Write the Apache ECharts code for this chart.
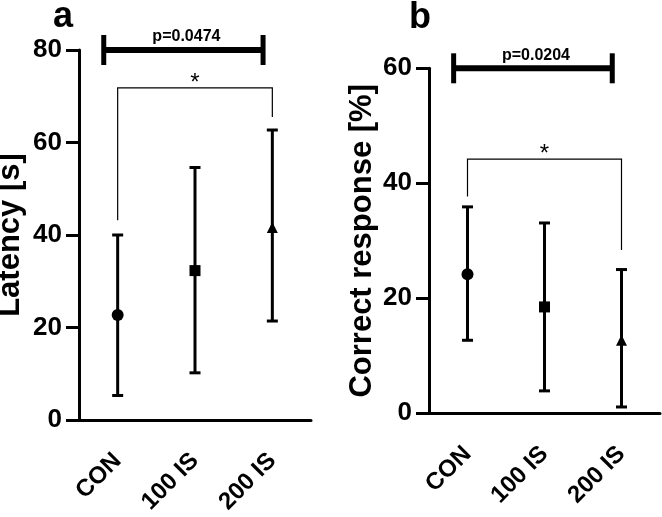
<!DOCTYPE html>
<html>
<head>
<meta charset="utf-8">
<script src="https://cdn.jsdelivr.net/npm/echarts@6/dist/echarts.min.js"></script>
<style>
html,body{margin:0;padding:0;background:#fff;}
#chart{width:662px;height:517px;}
</style>
</head>
<body>
<div id="chart"></div>
<script>
const categories = ['CON', '100 IS', '200 IS'];
const latencyMean = [22.7, 32.3, 41.6];
const latencyLow = [5.3, 10.2, 21.4];
const latencyHigh = [40.0, 54.6, 62.7];
const correctMean = [24.2, 18.5, 12.7];
const correctLow = [12.7, 3.9, 1.1];
const correctHigh = [35.9, 33.1, 25.0];
const yMaxA = 80, yStepA = 20;
const yMaxB = 60, yStepB = 20;
const yNames = ['Latency [s]', 'Correct response [%]'];
const panelLetters = ['a', 'b'];
const pText = ['p=0.0474', 'p=0.0204'];
const pBarLevel = [80, 60];
const pBarFrom = [-0.18, -0.18];
const pBarTo = [1.88, 1.88];
const starLevel = [71.8, 44.2];
const starLeftEnd = [43.2, 37.7];
const starRightEnd = [65.5, 28.4];
const markerShapes = ['circle', 'rect', 'triangle'];
const markerSizes = [12, 11, 11];

const FONT = "'Liberation Sans', Arial, Helvetica, sans-serif";
const BLACK = '#000';

function errRender(params, api) {
  const x = api.value(0), lo = api.value(1), hi = api.value(2);
  const pLo = api.coord([x, lo]), pHi = api.coord([x, hi]);
  const hw = 5.5;
  const st = {stroke: BLACK, lineWidth: 3};
  return {type: 'group', children: [
    {type: 'line', shape: {x1: pLo[0], y1: pLo[1], x2: pHi[0], y2: pHi[1]}, style: st},
    {type: 'line', shape: {x1: pLo[0] - hw, y1: pLo[1], x2: pLo[0] + hw, y2: pLo[1]}, style: st},
    {type: 'line', shape: {x1: pHi[0] - hw, y1: pHi[1], x2: pHi[0] + hw, y2: pHi[1]}, style: st}
  ]};
}

function bracketRender(k) {
  return function (params, api) {
    const band = api.size([1, 0])[0];
    const c0 = api.coord([0, pBarLevel[k]]);
    const xa = c0[0] + pBarFrom[k] * band;
    const xb = c0[0] + pBarTo[k] * band;
    const yb = c0[1];
    const s0 = api.coord([0, starLevel[k]]);
    const s2 = api.coord([2, starLevel[k]]);
    const l0 = api.coord([0, starLeftEnd[k]]);
    const r2 = api.coord([2, starRightEnd[k]]);
    const cap = 15;
    return {type: 'group', children: [
      {type: 'line', shape: {x1: xa, y1: yb, x2: xb, y2: yb}, style: {stroke: BLACK, lineWidth: 6}},
      {type: 'line', shape: {x1: xa, y1: yb - cap, x2: xa, y2: yb + cap}, style: {stroke: BLACK, lineWidth: 5}},
      {type: 'line', shape: {x1: xb, y1: yb - cap, x2: xb, y2: yb + cap}, style: {stroke: BLACK, lineWidth: 5}},
      {type: 'text', x: (xa + xb) / 2 + 3, y: yb - 5, style: {text: pText[k], font: 'bold 16px ' + FONT, fill: BLACK, align: 'center', verticalAlign: 'bottom', textAlign: 'center', textVerticalAlign: 'bottom'}},
      {type: 'polyline', shape: {points: [[l0[0], l0[1]], [s0[0], s0[1]], [s2[0], s2[1]], [r2[0], r2[1]]]}, style: {stroke: BLACK, lineWidth: 1.2, fill: null}},
      {type: 'text', x: (s0[0] + s2[0]) / 2, y: s0[1] - 5, style: {text: '*', font: '24px ' + FONT, fill: BLACK, align: 'center', verticalAlign: 'middle', textAlign: 'center', textVerticalAlign: 'middle'}}
    ]};
  };
}

function xAxisCfg(gi) {
  return {
    type: 'category', gridIndex: gi, data: categories, boundaryGap: true,
    axisLine: {lineStyle: {color: BLACK, width: 3}},
    axisTick: {alignWithLabel: true, length: 14, lineStyle: {color: BLACK, width: 3}},
    axisLabel: {rotate: 45, margin: 37, color: BLACK, fontSize: 24, fontWeight: 'bold', fontFamily: FONT, interval: 0},
    splitLine: {show: false}
  };
}
function yAxisCfg(gi, max, step, nameGap) {
  return {
    type: 'value', gridIndex: gi, min: 0, max: max, interval: step,
    name: yNames[gi], nameLocation: 'middle', nameGap: nameGap,
    nameTextStyle: {color: BLACK, fontSize: 31, fontWeight: 'bold', fontFamily: FONT},
    axisLine: {show: true, lineStyle: {color: BLACK, width: 3}},
    axisTick: {show: true, length: 13, lineStyle: {color: BLACK, width: 3}},
    axisLabel: {margin: 17, color: BLACK, fontSize: 26, fontWeight: 'bold', fontFamily: FONT},
    splitLine: {show: false}
  };
}
function meanData(arr) {
  return arr.map((v, i) => ({value: [i, v], symbol: markerShapes[i], symbolSize: markerSizes[i]}));
}
function errData(lo, hi) {
  return lo.map((v, i) => [i, v, hi[i]]);
}

const chart = echarts.init(document.getElementById('chart'), null, {renderer: 'canvas'});
chart.setOption({
  animation: false,
  backgroundColor: '#fff',
  grid: [
    {left: 79, top: 50, width: 232, height: 370, containLabel: false, outerBoundsMode: 'none'},
    {left: 429, top: 68.3, width: 231, height: 345, containLabel: false, outerBoundsMode: 'none'}
  ],
  xAxis: [xAxisCfg(0), xAxisCfg(1)],
  yAxis: [yAxisCfg(0, yMaxA, yStepA, 53), yAxisCfg(1, yMaxB, yStepB, 51)],
  graphic: [
    {type: 'text', x: 63, y: 17, style: {text: panelLetters[0], font: 'bold 36px ' + FONT, fill: BLACK, align: 'center', verticalAlign: 'middle', textAlign: 'center', textVerticalAlign: 'middle'}},
    {type: 'text', x: 420, y: 18, style: {text: panelLetters[1], font: 'bold 36px ' + FONT, fill: BLACK, align: 'center', verticalAlign: 'middle', textAlign: 'center', textVerticalAlign: 'middle'}}
  ],
  series: [
    {type: 'custom', xAxisIndex: 0, yAxisIndex: 0, renderItem: errRender, data: errData(latencyLow, latencyHigh), encode: {x: 0, y: [1, 2]}, z: 2},
    {type: 'scatter', xAxisIndex: 0, yAxisIndex: 0, data: meanData(latencyMean), itemStyle: {color: BLACK, opacity: 1}, z: 3},
    {type: 'custom', xAxisIndex: 0, yAxisIndex: 0, renderItem: bracketRender(0), data: [[0, pBarLevel[0]]], encode: {x: 0, y: 1}, z: 2, clip: false},
    {type: 'custom', xAxisIndex: 1, yAxisIndex: 1, renderItem: errRender, data: errData(correctLow, correctHigh), encode: {x: 0, y: [1, 2]}, z: 2},
    {type: 'scatter', xAxisIndex: 1, yAxisIndex: 1, data: meanData(correctMean), itemStyle: {color: BLACK, opacity: 1}, z: 3},
    {type: 'custom', xAxisIndex: 1, yAxisIndex: 1, renderItem: bracketRender(1), data: [[0, pBarLevel[1]]], encode: {x: 0, y: 1}, z: 2, clip: false}
  ]
});
</script>
</body>
</html>
